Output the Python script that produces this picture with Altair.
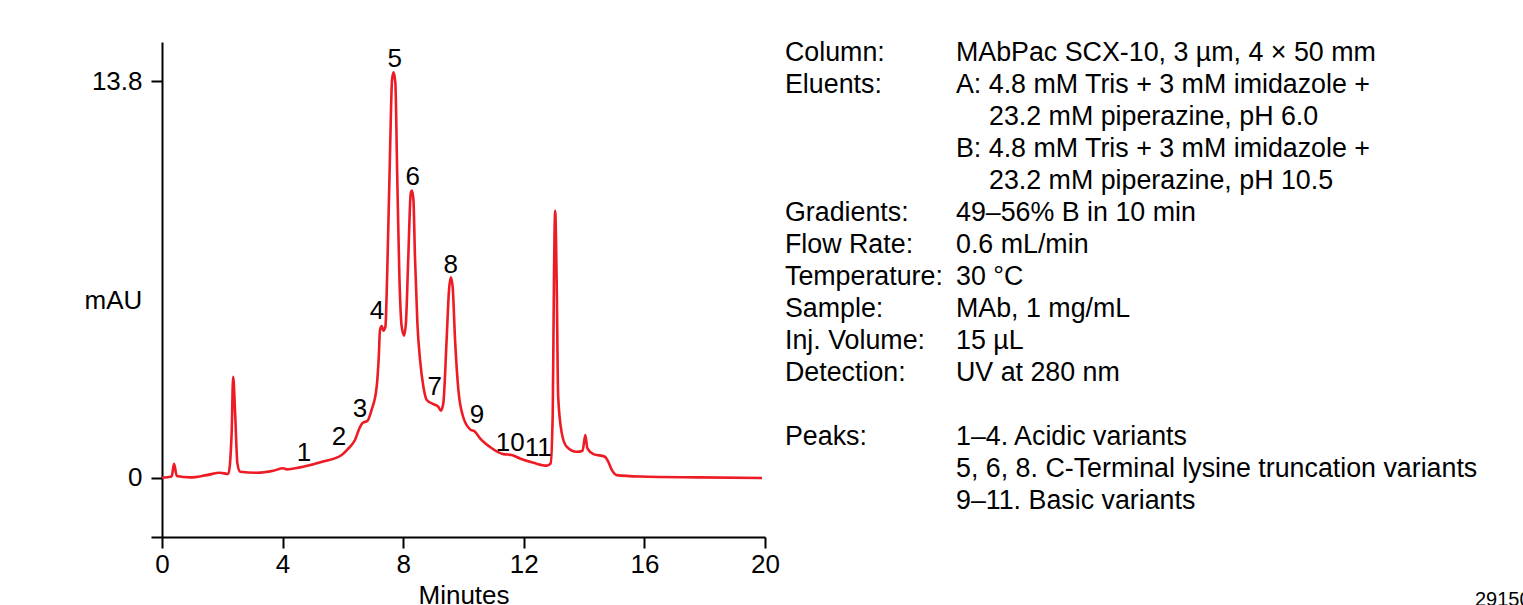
import altair as alt
import pandas as pd

# ---- chromatogram trace (minutes, mAU) ----
time_min = [0.00, 0.32, 0.40, 0.49, 0.93, 1.48, 1.92, 2.20, 2.31, 2.36, 2.43, 2.50, 2.59,
            3.14, 3.69, 4.02, 4.14, 4.58, 4.68, 5.34, 5.96, 6.17, 6.40, 6.57, 6.66, 6.81,
            6.95, 7.12, 7.19, 7.23, 7.29, 7.34, 7.41, 7.47, 7.56, 7.63, 7.68, 7.74, 7.80,
            7.87, 7.95, 8.03, 8.09, 8.17, 8.25, 8.29, 8.34, 8.39, 8.47, 8.56, 8.67, 8.78,
            9.00, 9.16, 9.25, 9.33, 9.44, 9.52, 9.58, 9.64, 9.72, 9.83, 9.99, 10.22, 10.38,
            10.55, 10.88, 11.32, 11.60, 11.87, 12.32, 12.76, 12.89, 12.96, 13.00, 13.04,
            13.09, 13.14, 13.26, 13.42, 13.75, 13.95, 14.04, 14.11, 14.31, 14.69, 14.80,
            14.92, 15.08, 15.85, 17.84, 19.90]
absorbance = [0.01, 0.05, 0.49, 0.07, 0.02, 0.10, 0.18, 0.14, 1.56, 3.52, 2.13, 0.51, 0.22,
              0.18, 0.25, 0.34, 0.30, 0.37, 0.39, 0.57, 0.80, 1.01, 1.32, 1.78, 1.92, 1.98,
              2.36, 3.17, 4.22, 5.14, 5.28, 5.12, 5.26, 7.13, 11.17, 13.84, 14.10, 13.73, 10.60,
              7.13, 5.26, 4.95, 5.39, 7.70, 9.90, 9.99, 9.66, 7.70, 5.39, 4.10, 3.17, 2.71,
              2.57, 2.48, 2.34, 2.60, 4.80, 6.54, 6.98, 6.65, 4.80, 3.06, 2.12, 1.69, 1.61,
              1.38, 1.08, 0.83, 0.80, 0.68, 0.53, 0.43, 0.51, 2.26, 6.88, 9.29,
              6.88, 2.83, 1.56, 1.09, 0.91, 0.95, 1.49, 1.03, 0.83, 0.74, 0.57,
              0.28, 0.10, 0.05, 0.02, 0.00]

# ---- peak labels (anchored in minutes / mAU) ----
peak_ids = ["1", "2", "3", "4", "5", "6", "7", "8", "9", "10", "11"]
peak_label_t = [4.71, 5.87, 6.57, 7.13, 7.72, 8.32, 9.05, 9.58, 10.45, 11.55, 12.48]
peak_label_v = [0.87, 1.43, 2.40, 5.80, 14.55, 10.46, 3.16, 7.40, 2.18, 1.22, 1.04]

# ---- method description ----
info_labels = ["Column:", "Eluents:", "", "", "", "Gradients:", "Flow Rate:", "Temperature:",
               "Sample:", "Inj. Volume:", "Detection:", "", "Peaks:", "", ""]
info_values = ["MAbPac SCX-10, 3 µm, 4 × 50 mm",
               "A: 4.8 mM Tris + 3 mM imidazole +",
               "23.2 mM piperazine, pH 6.0",
               "B: 4.8 mM Tris + 3 mM imidazole +",
               "23.2 mM piperazine, pH 10.5",
               "49–56% B in 10 min",
               "0.6 mL/min",
               "30 °C",
               "MAb, 1 mg/mL",
               "15 µL",
               "UV at 280 nm",
               "",
               "1–4. Acidic variants",
               "5, 6, 8. C-Terminal lysine truncation variants",
               "9–11. Basic variants"]
info_indented = [0, 0, 1, 0, 1, 0, 0, 0, 0, 0, 0, 0, 0, 0, 0]
figure_code = "29150"

X_TICKS = [0, 4, 8, 12, 16, 20]
Y_MIN, Y_MAX = -2.051, 15.156
Y_TICKS = [Y_MIN, 0, 13.8]

FONT = "Liberation Sans"
RED = "#ED1C24"

# text block layout (pixels relative to the plot area)
LABEL_X, VALUE_X, INDENT = 623, 794, 33
FIRST_BASELINE, LINE_H = 19, 32

trace_df = pd.DataFrame({"t": time_min, "v": absorbance})
peaks_df = pd.DataFrame({"t": peak_label_t, "v": peak_label_v, "label": peak_ids})

x_enc = alt.X("t:Q",
              scale=alt.Scale(domain=[0, 20], nice=False, zero=False),
              axis=alt.Axis(values=X_TICKS, title="Minutes", labelPadding=3,
                            titleY=66, titleBaseline="alphabetic", labelFlush=False))
y_enc = alt.Y("v:Q",
              scale=alt.Scale(domain=[Y_MIN, Y_MAX], nice=False, zero=False),
              axis=alt.Axis(values=Y_TICKS, title="mAU", titleAngle=0, titleX=-49, titleY=258,
                            titleAlign="center", titleBaseline="middle", labelPadding=9,
                            labelExpr="datum.value < -1 ? '' : format(datum.value, '~g')",
                            labelFlush=False))

trace = alt.Chart(trace_df).mark_line(color=RED, strokeWidth=2.6, interpolate="monotone").encode(
    x=x_enc, y=y_enc)

peaks = alt.Chart(peaks_df).mark_text(font=FONT, fontSize=26, align="center",
                                      baseline="middle", color="black").encode(
    x="t:Q", y="v:Q", text="label:N")

text_kw = dict(font=FONT, fontSize=26.8, align="left", baseline="alphabetic", color="black")

layers = [trace, peaks]
for i, (lab, val, ind) in enumerate(zip(info_labels, info_values, info_indented)):
    y_px = FIRST_BASELINE + LINE_H * i
    if lab:
        layers.append(alt.Chart(pd.DataFrame({"s": [lab]})).mark_text(**text_kw).encode(
            x=alt.value(LABEL_X), y=alt.value(y_px), text="s:N"))
    if val:
        layers.append(alt.Chart(pd.DataFrame({"s": [val]})).mark_text(**text_kw).encode(
            x=alt.value(VALUE_X + (INDENT if ind else 0)), y=alt.value(y_px), text="s:N"))

layers.append(alt.Chart(pd.DataFrame({"s": [figure_code]})).mark_text(
    font=FONT, fontSize=20, align="left", baseline="alphabetic", color="black").encode(
    x=alt.value(1313), y=alt.value(564), text="s:N"))

chart = alt.layer(*layers).properties(
    width=603, height=495,
    autosize=alt.AutoSizeParams(type="none"),
    padding={"left": 162, "top": 42, "right": 758, "bottom": 68},
    background="white",
).configure_view(stroke=None).configure_axis(
    grid=False, domainColor="black", domainWidth=2, tickColor="black", tickWidth=2,
    tickSize=11, labelFont=FONT, labelFontSize=26, labelColor="black",
    titleFont=FONT, titleFontSize=26, titleFontWeight="normal", titleColor="black",
)

chart.save("out.html", embed_options={"renderer": "svg", "actions": False})
